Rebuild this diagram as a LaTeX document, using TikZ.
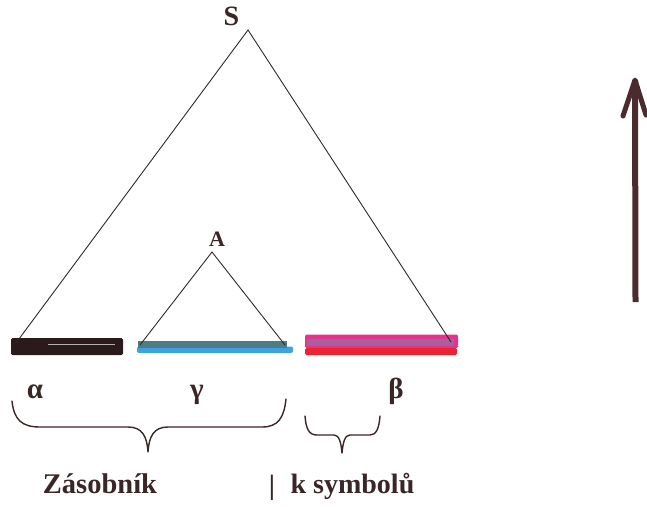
\documentclass[tikz,border=0pt]{standalone}
\usepackage{fontspec}
\setmainfont{Liberation Serif}
\definecolor{ink}{HTML}{3B2626}
\definecolor{lineg}{HTML}{2E2A2A}
\definecolor{barblack}{HTML}{2A1A1C}
\definecolor{tealg}{HTML}{4E7C84}
\definecolor{blueu}{HTML}{3FA2E0}
\definecolor{magen}{HTML}{E2348C}
\definecolor{mauve}{HTML}{A8609C}
\definecolor{redu}{HTML}{EC2430}
\definecolor{arrowc}{HTML}{4A2C2E}
\tikzset{
  lbl/.style={font=\bfseries, text=ink, inner sep=0pt, anchor=base},
  tri/.style={draw=lineg, line width=0.9pt},
  brace/.style={draw=ink, line width=1.4pt, line cap=round, line join=round},
}
\begin{document}
\begin{tikzpicture}[x=1pt,y=-1pt]
\useasboundingbox (0,0) rectangle (647,506);
\fill[white] (0,0) rectangle (647,506);
% coordinates
\coordinate (Stop) at (248,30);
\coordinate (Sl) at (16,343);
\coordinate (Sr) at (451,342);
\coordinate (Atop) at (212,252);
\coordinate (Al) at (140,345);
\coordinate (Ar) at (285,345);
% bars
\fill[barblack, rounded corners=1.5pt] (11,338) rectangle (123,355);
\draw[gray!60, line width=0.8pt] (48,344) -- (115,344);
\fill[blueu, rounded corners=2pt] (137,346.5) rectangle (293,353);
\fill[tealg] (138,341) rectangle (287,348);
\fill[magen, rounded corners=1.5pt] (305,334.5) rectangle (458,348);
\fill[mauve] (307,339) rectangle (454,346);
\fill[redu, rounded corners=1.5pt] (305,348) rectangle (457,355);
% triangles
\draw[tri] (Sl) -- (Stop) -- (Sr);
\draw[tri] (Al) -- (Atop) -- (Ar);
% labels
\node[lbl, font=\bfseries\fontsize{28}{30}\selectfont] (S) at (231.5,25.5) {S};
\node[lbl, font=\bfseries\fontsize{22}{24}\selectfont] (A) at (217,246) {A};
\node[lbl, font=\bfseries\fontsize{29}{31}\selectfont] (alpha) at (35,398) {α};
\node[lbl, font=\bfseries\fontsize{29}{31}\selectfont] (gamma) at (197,398) {γ};
\node[lbl, font=\bfseries\fontsize{29}{31}\selectfont] (beta) at (396,398) {β};
\node[lbl, font=\bfseries\fontsize{28.5}{30}\selectfont] (zas) at (100,493) {Zásobník};
\node[lbl, font=\bfseries\fontsize{28}{30}\selectfont] (bar) at (272,494) {|};
\node[lbl, font=\bfseries\fontsize{28}{30}\selectfont] (ksym) at (352.5,493) {k symbolů};
% braces
\coordinate (b1l) at (12,401);
\coordinate (b1t) at (148,452);
\coordinate (b1r) at (286,399);
\draw[brace] (b1l) .. controls (14,420) and (22,427) .. (40,427)
  -- (128,427) .. controls (142,427) and (147,436) .. (b1t)
  .. controls (149,436) and (154,427) .. (168,427)
  -- (262,427) .. controls (278,427) and (284,418) .. (b1r);
\coordinate (b2l) at (305,416);
\coordinate (b2t) at (342,453);
\coordinate (b2r) at (380,416);
\draw[brace] (b2l) .. controls (306,429) and (309,435) .. (317,435)
  -- (334,435) .. controls (339,435) and (341,442) .. (b2t)
  .. controls (343,442) and (345,435) .. (350,435)
  -- (370,435) .. controls (376,435) and (379,429) .. (b2r);
% arrow
\coordinate (arB) at (635.5,302);
\coordinate (arT) at (635,80);
\draw[arrowc, line width=6pt] (arB) -- (arT);
\draw[arrowc, line width=5pt, line join=round, line cap=round] (623,116) -- (arT) -- (646,115);
\end{tikzpicture}
\end{document}
